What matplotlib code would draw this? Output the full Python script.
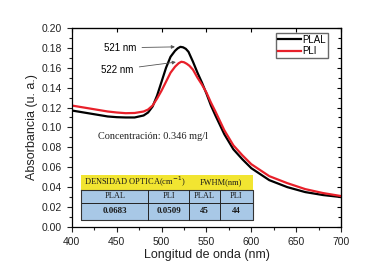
import matplotlib
matplotlib.use("Agg")
import matplotlib.pyplot as plt
from matplotlib.patches import Rectangle
from matplotlib.ticker import MultipleLocator, FormatStrFormatter

# wavelength (nm) and absorbance
wl_plal = [400, 410, 420, 430, 440, 450, 460, 470, 480, 485, 490, 495, 500, 505, 510,
           515, 518, 521, 524, 527, 530, 535, 540, 545, 550, 555, 560, 570, 580, 590, 600,
           620, 640, 660, 680, 700]
abs_plal = [0.117, 0.1155, 0.114, 0.1125, 0.111, 0.1103, 0.110, 0.110, 0.112, 0.115,
            0.121, 0.132, 0.146, 0.160, 0.171, 0.177, 0.1795, 0.181, 0.1805, 0.179, 0.176,
            0.166, 0.155, 0.145, 0.134, 0.122, 0.112, 0.093, 0.078, 0.068, 0.059, 0.047,
            0.040, 0.035, 0.032, 0.030]

wl_pli = [400, 410, 420, 430, 440, 450, 460, 470, 480, 485, 490, 495, 500, 505, 510,
          515, 519, 522, 525, 528, 531, 535, 540, 545, 550, 555, 560, 570, 580, 590, 600,
          620, 640, 660, 680, 700]
abs_pli = [0.122, 0.1205, 0.119, 0.1175, 0.116, 0.115, 0.1143, 0.1145, 0.116, 0.118,
           0.122, 0.129, 0.137, 0.146, 0.155, 0.161, 0.1645, 0.166, 0.1655, 0.164, 0.162,
           0.158, 0.150, 0.143, 0.135, 0.125, 0.116, 0.097, 0.082, 0.072, 0.063, 0.051,
           0.044, 0.038, 0.034, 0.031]

table_header = ["DENSIDAD OPTICA(cm$^{-1}$)", "FWHM(nm)"]
table_cols = ["PLAL", "PLI", "PLAL", "PLI"]
table_vals = ["0.0683", "0.0509", "45", "44"]

plt.rcParams["font.family"] = ["Liberation Sans", "DejaVu Sans"]

fig = plt.figure(figsize=(3.74, 2.66), dpi=100)
ax = fig.add_axes([0.192, 0.147, 0.720, 0.748])

ax.plot(wl_plal, abs_plal, color="black", lw=1.6, label="PLAL")
ax.plot(wl_pli, abs_pli, color="#e8202a", lw=1.6, label="PLI")

ax.set_xlim(400, 700)
ax.set_ylim(0, 0.20)
ax.xaxis.set_major_locator(MultipleLocator(50))
ax.xaxis.set_minor_locator(MultipleLocator(25))
ax.yaxis.set_major_locator(MultipleLocator(0.02))
ax.yaxis.set_minor_locator(MultipleLocator(0.01))
ax.yaxis.set_major_formatter(FormatStrFormatter("%.2f"))
ax.tick_params(which="both", direction="out", top=False, right=False,
               labelsize=7.5, colors="#222222", width=0.8)
ax.tick_params(which="major", length=3.5)
ax.tick_params(which="minor", length=2)
for s in ax.spines.values():
    s.set_linewidth(0.9)

# inward ticks on top and right
sec = ax.secondary_xaxis("top")
sec.xaxis.set_major_locator(MultipleLocator(50))
sec.tick_params(direction="in", length=3, labeltop=False, width=0.8)
secy = ax.secondary_yaxis("right")
secy.yaxis.set_major_locator(MultipleLocator(0.02))
secy.yaxis.set_minor_locator(MultipleLocator(0.01))
secy.tick_params(which="both", direction="in", labelright=False, width=0.8)
secy.tick_params(which="major", length=3)
secy.tick_params(which="minor", length=2)

ax.set_xlabel("Longitud de onda (nm)", fontsize=9, color="#222222", labelpad=2)
ax.set_ylabel("Absorbancia (u. a.)", fontsize=9, color="#222222", labelpad=3)

ax.legend(loc="upper right", bbox_to_anchor=(0.952, 0.975), fontsize=7,
          frameon=True, fancybox=False, edgecolor="#444444", handlelength=2.3,
          handletextpad=0.2, borderpad=0.2, labelspacing=0.15, borderaxespad=0)

arrow = dict(arrowstyle="-|>", color="#555555", lw=0.6, mutation_scale=5)
ax.annotate("521 nm", xy=(518, 0.181), xytext=(454, 0.180), fontsize=7,
            ha="center", va="center", arrowprops=arrow)
ax.annotate("522 nm", xy=(519, 0.166), xytext=(451, 0.158), fontsize=7,
            ha="center", va="center", arrowprops=arrow)

ax.text(490, 0.0905, "Concentración: 0.346 mg/l", fontsize=7.4,
        family=["Liberation Serif"], ha="center", va="center", color="#222222")

# table drawn in axes fraction
tx = [0.035, 0.284, 0.435, 0.550, 0.673]
ty = [0.261, 0.186, 0.121, 0.035]
yellow = "#f2e531"
blue = "#a8c8e6"
tkw = dict(transform=ax.transAxes, family=["Liberation Serif"], fontsize=6,
           ha="center", va="center", color="#1a1a1a", zorder=5)
ax.add_patch(Rectangle((tx[0], ty[1]), tx[-1] - tx[0], ty[0] - ty[1],
                       transform=ax.transAxes, facecolor=yellow, edgecolor="none", zorder=4))
ax.add_patch(Rectangle((tx[0], ty[-1]), tx[-1] - tx[0], ty[1] - ty[-1],
                       transform=ax.transAxes, facecolor=blue, edgecolor="none", zorder=4))
ax.plot([tx[0], tx[-1]], [ty[2], ty[2]], transform=ax.transAxes, color="#222222", lw=0.7, zorder=5)
ax.plot([tx[0], tx[-1], tx[-1], tx[0], tx[0]], [ty[1], ty[1], ty[-1], ty[-1], ty[1]],
        transform=ax.transAxes, color="#333333", lw=0.8, zorder=5)
for x in tx[1:-1]:
    ax.plot([x, x], [ty[1], ty[-1]], transform=ax.transAxes, color="#222222", lw=0.7, zorder=5)
ax.text((tx[0] + tx[2]) / 2, (ty[0] + ty[1]) / 2, table_header[0], **tkw)
ax.text((tx[2] + tx[4]) / 2, (ty[0] + ty[1]) / 2, table_header[1], **tkw)
for i in range(4):
    cx = (tx[i] + tx[i + 1]) / 2
    ax.text(cx, (ty[1] + ty[2]) / 2, table_cols[i], **tkw)
    ax.text(cx, (ty[2] + ty[3]) / 2, table_vals[i], **{**tkw, "fontsize": 6.5, "weight": "bold"})

fig.savefig("out.png", dpi=100)
